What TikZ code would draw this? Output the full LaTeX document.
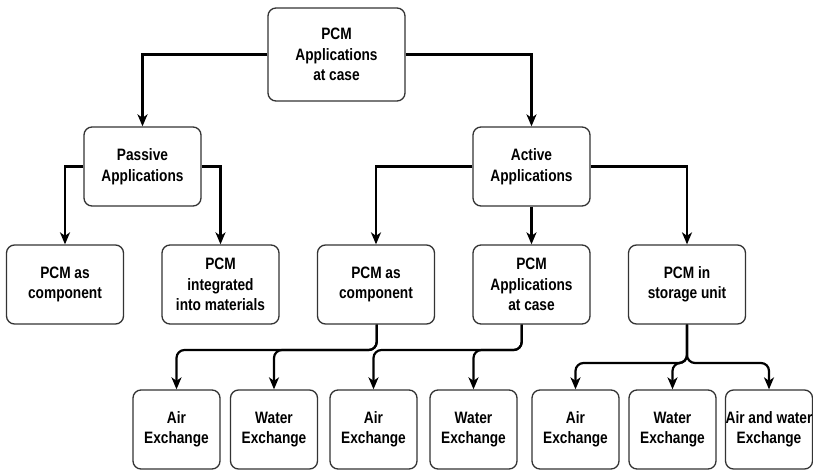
\documentclass[tikz,border=0pt]{standalone}
\usepackage{fontspec}
\setmainfont{Liberation Sans}[FakeStretch=0.83]
\usetikzlibrary{arrows.meta}
\definecolor{boxline}{HTML}{333333}
\tikzset{
  box/.style={draw=boxline, line width=1.3pt, rounded corners=8pt, align=center,
    inner sep=0pt, font=\fontsize{16.5pt}{20.5pt}\selectfont\bfseries, fill=white},
  big/.style={box, minimum width=137pt, minimum height=93pt},
  mid/.style={box, minimum width=117pt, minimum height=79pt},
  small/.style={box, minimum width=87pt, minimum height=79pt},
  arr/.style={draw=black, line width=2.2pt, -{Stealth[length=12pt,width=10pt,inset=3.5pt]}},
  curv/.style={arr, rounded corners=8pt}
}
\begin{document}
\begin{tikzpicture}[x=1pt, y=-1pt]
\useasboundingbox (0,0) rectangle (813,471);
\node[big] (top) at (336.5,54.5) {PCM\\Applications\\at case};
\node[mid] (passive) at (142.5,166.5) {Passive\\Applications};
\node[mid] (active) at (531.5,166.5) {Active\\Applications};
\node[mid] (comp1) at (65,284.5) {PCM as\\component};
\node[mid] (integ) at (220.5,284.5) {PCM\\integrated\\into materials};
\node[mid] (comp2) at (376,284.5) {PCM as\\component};
\node[mid] (appcase) at (531.5,284.5) {PCM\\Applications\\at case};
\node[mid] (storage) at (687,284.5) {PCM in\\storage unit};
\node[small] (air1) at (176.5,429.5) {Air\\Exchange};
\node[small] (water1) at (274,429.5) {Water\\Exchange};
\node[small] (air2) at (373.5,429.5) {Air\\Exchange};
\node[small] (water2) at (473.5,429.5) {Water\\Exchange};
\node[small] (air3) at (575.5,429.5) {Air\\Exchange};
\node[small] (water3) at (672.5,429.5) {Water\\Exchange};
\node[small] (aw) at (769,429.5) {Air and water\\Exchange};
% upper connectors
\draw[arr] (top.west) -| (passive.north);
\draw[arr] (top.east) -| (active.north);
\draw[arr] (passive.west) -| (comp1.north);
\draw[arr] (passive.east) -| (integ.north);
\draw[arr] (active.west) -| (comp2.north);
\draw[arr] (active.south) -- (appcase.north);
\draw[arr] (active.east) -| (storage.north);
% lower connectors
\coordinate (c2) at ([xshift=0.7pt]comp2.south);
\coordinate (a2) at ([xshift=-9.8pt]appcase.south);
\draw[curv] (c2) -- (c2 |- 0,350) -| (air1.north);
\draw[curv] (c2) -- (c2 |- 0,350) -| (water1.north);
\draw[curv] (a2) -- (a2 |- 0,350) -| (air2.north);
\draw[curv] (a2) -- (a2 |- 0,350) -| (water2.north);
\draw[curv] (storage.south) -- (storage.south |- 0,363) -| (air3.north);
\draw[curv] (storage.south) -- (storage.south |- 0,363) -| (water3.north);
\draw[curv] (storage.south) -- (storage.south |- 0,363) -| (aw.north);
\end{tikzpicture}
\end{document}
